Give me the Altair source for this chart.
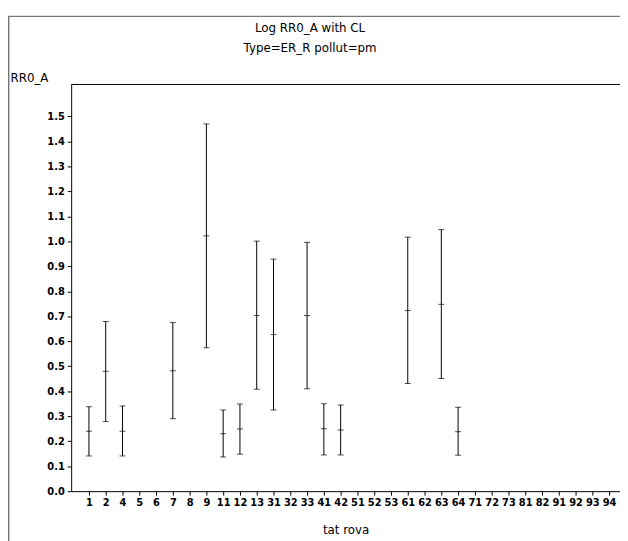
import altair as alt
import pandas as pd

categories = ["1", "2", "4", "5", "6", "7", "8", "9", "11", "12", "13", "31", "32", "33",
              "41", "42", "51", "52", "53", "61", "62", "63", "64", "71", "72", "73",
              "81", "82", "91", "92", "93", "94"]
bar_cats = ["1", "2", "4", "7", "9", "11", "12", "13", "31", "33", "41", "42", "61", "63", "64"]
estimate = [0.240, 0.480, 0.240, 0.482, 1.022, 0.230, 0.249, 0.703, 0.627, 0.703, 0.250, 0.245, 0.723, 0.748, 0.238]
lower = [0.141, 0.279, 0.141, 0.290, 0.574, 0.137, 0.148, 0.408, 0.325, 0.410, 0.145, 0.145, 0.431, 0.451, 0.144]
upper = [0.338, 0.679, 0.341, 0.675, 1.470, 0.325, 0.349, 1.001, 0.929, 0.996, 0.350, 0.345, 1.017, 1.047, 0.336]
y_ticks = [0.0, 0.1, 0.2, 0.3, 0.4, 0.5, 0.6, 0.7, 0.8, 0.9, 1.0, 1.1, 1.2, 1.3, 1.4, 1.5]

df = pd.DataFrame({"cat": bar_cats, "est": estimate, "lower": lower, "upper": upper})

W, H = 556, 412
FONT = "DejaVu Sans"

xscale = alt.Scale(domain=categories, type="point", padding=0.853, align=0.62)
yscale = alt.Scale(domain=[0, 1.628], nice=False, zero=False)

x_enc = alt.X("cat:O", scale=xscale, sort=categories,
              axis=alt.Axis(title="tat rova", labelAngle=0, labelFont=FONT, labelFontWeight="bold",
                            labelFontSize=10, labelColor="black", labelPadding=3, tickSize=4,
                            tickColor="black", domainColor="black", grid=False, labelOverlap=False,
                            titleFont=FONT, titleFontSize=12, titleFontWeight="normal",
                            titleColor="black", titlePadding=17))
y_axis = alt.Axis(title="RR0_A", values=y_ticks, format=".1f", labelFont=FONT,
                  labelFontWeight="bold", labelFontSize=10, labelColor="black", tickSize=4,
                  tickColor="black", domainColor="black", grid=False, labelPadding=3,
                  labelOverlap=False, tickCount=16,
                  titleAngle=0, titleX=-62, titleY=-7, titleAlign="left", titleBaseline="middle",
                  titleFont=FONT, titleFontSize=12, titleFontWeight="normal", titleColor="black")


def y_enc(field):
    return alt.Y(field, scale=yscale, axis=y_axis, title="RR0_A")


base = alt.Chart(df)
rule = base.mark_rule(color="black", strokeWidth=1).encode(
    x=x_enc, y=y_enc("lower:Q"), y2="upper:Q")
cap_lo = base.mark_tick(color="black", size=6, thickness=1).encode(x=x_enc, y=y_enc("lower:Q"))
cap_hi = base.mark_tick(color="black", size=6, thickness=1).encode(x=x_enc, y=y_enc("upper:Q"))
mid = base.mark_tick(color="black", size=6, thickness=1).encode(x=x_enc, y=y_enc("est:Q"))

one = alt.Data(values=[{"a": 1}])
frame_top = alt.Chart(one).mark_rule(color="black", strokeWidth=1).encode(
    x=alt.value(0), x2=alt.value(W), y=alt.value(0))
outer_top = alt.Chart(one).mark_rule(color="#777777", strokeWidth=1.5).encode(
    x=alt.value(-64), x2=alt.value(W), y=alt.value(-69))
outer_left = alt.Chart(one).mark_rule(color="#777777", strokeWidth=1.5).encode(
    x=alt.value(-63.3), y=alt.value(-69), y2=alt.value(H + 60))
title1 = alt.Chart(one).mark_text(font=FONT, fontSize=12, color="black", align="center",
                                  baseline="middle").encode(
    x=alt.value(242), y=alt.value(-57), text=alt.value("Log RR0_A with CL"))
title2 = alt.Chart(one).mark_text(font=FONT, fontSize=12, color="black", align="center",
                                  baseline="middle").encode(
    x=alt.value(242), y=alt.value(-37), text=alt.value("Type=ER_R pollut=pm"))

chart = alt.layer(rule, cap_lo, cap_hi, mid, frame_top, outer_top, outer_left, title1, title2).properties(
    width=W, height=H,
    padding={"left": 64, "top": 74, "right": 0, "bottom": 47},
    autosize=alt.AutoSizeParams(type="none"),
).configure_view(stroke=None)

chart.save("out.html", embed_options={"renderer": "svg", "actions": False})
